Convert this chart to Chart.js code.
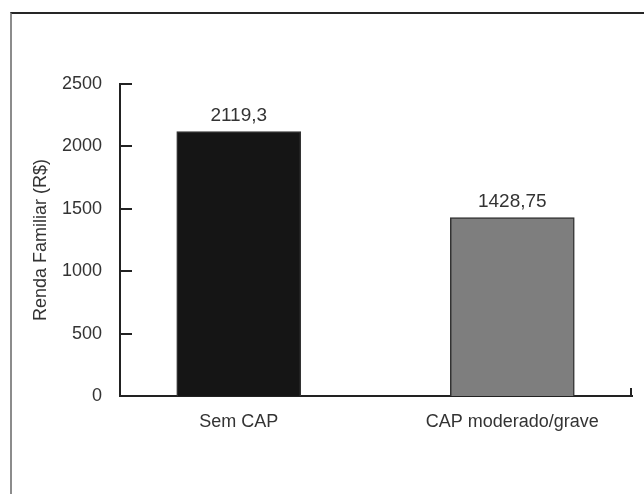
<!DOCTYPE html>
<html>
<head>
<meta charset="utf-8">
<script src="https://cdn.jsdelivr.net/npm/chart.js@4/dist/chart.umd.min.js"></script>
<style>
    html, body { margin: 0; padding: 0; background: #fff; overflow: hidden; }
    #wrap { position: relative; width: 644px; height: 494px; }
    #frame {
        position: absolute; left: 10px; top: 12px; width: 700px; height: 600px;
        border-top: 2px solid #262626; border-left: 2px solid #8c8c8c;
    }
    canvas { position: absolute; left: 0; top: 0; }
</style>
</head>
<body>
<div id="wrap">
    <div id="frame"></div>
    <canvas id="rendaChart" width="644" height="494"></canvas>
</div>
<script>
// data
const categories = ['Sem CAP', 'CAP moderado/grave'];
const rendaValues = [2119.3, 1428.75];
const barColors = ['#151515', '#7e7e7e'];
const yTicks = [0, 500, 1000, 1500, 2000, 2500];

document.addEventListener('DOMContentLoaded', function () {
    const textColor = '#333';
    const fontFamily = '"Liberation Sans", Arial, sans-serif';

    // short tick marks pointing into the plot, plus the small upturn at the end of the x axis
    const axisMarks = {
        id: 'axisMarks',
        afterDraw(chart) {
            const ctx = chart.ctx;
            const y = chart.scales.y;
            const area = chart.chartArea;
            ctx.save();
            ctx.strokeStyle = '#222';
            ctx.lineWidth = 2;
            ctx.beginPath();
            y.ticks.forEach(function (t) {
                const py = Math.round(y.getPixelForValue(t.value));
                ctx.moveTo(area.left, py);
                ctx.lineTo(area.left + 12, py);
            });
            ctx.moveTo(area.right - 1, area.bottom + 1);
            ctx.lineTo(area.right - 1, area.bottom - 8);
            ctx.stroke();
            ctx.restore();
        }
    };

    // numbers above each bar
    const valueLabels = {
        id: 'valueLabels',
        afterDatasetsDraw(chart) {
            const ctx = chart.ctx;
            const meta = chart.getDatasetMeta(0);
            ctx.save();
            ctx.fillStyle = textColor;
            ctx.font = '19px ' + fontFamily;
            ctx.textAlign = 'center';
            ctx.textBaseline = 'alphabetic';
            meta.data.forEach(function (bar, i) {
                const label = String(rendaValues[i]).replace('.', ',');
                ctx.fillText(label, bar.x, bar.y - 11);
            });
            ctx.restore();
        }
    };

    const ctx = document.getElementById('rendaChart').getContext('2d');
    new Chart(ctx, {
        type: 'bar',
        data: {
            datasets: [{
                data: rendaValues.map(function (v, i) { return { x: i + 1, y: v }; }),
                backgroundColor: barColors,
                borderColor: '#333',
                borderWidth: 1.5,
                borderSkipped: 'bottom',
                barThickness: 124
            }]
        },
        options: {
            responsive: false,
            animation: false,
            devicePixelRatio: 1,
            layout: {
                padding: { left: 0, right: 12, top: 84, bottom: 0 }
            },
            plugins: {
                legend: { display: false },
                tooltip: { enabled: false }
            },
            scales: {
                x: {
                    type: 'linear',
                    offset: false,
                    min: 0.566,
                    max: 2.4375,
                    afterFit: function (scale) { scale.height = 98; },
                    afterBuildTicks: function (scale) {
                        scale.ticks = categories.map(function (c, i) { return { value: i + 1 }; });
                    },
                    grid: { display: false },
                    border: { display: true, color: '#222', width: 2 },
                    ticks: {
                        color: textColor,
                        font: { family: fontFamily, size: 18 },
                        padding: 7,
                        maxRotation: 0,
                        autoSkip: false,
                        callback: function (v) { return categories[v - 1]; }
                    }
                },
                y: {
                    min: 0,
                    max: 2500,
                    afterFit: function (scale) { scale.width = 120; },
                    afterBuildTicks: function (scale) {
                        scale.ticks = yTicks.map(function (v) { return { value: v }; });
                    },
                    grid: { display: false },
                    border: { display: true, color: '#222', width: 2 },
                    ticks: {
                        color: textColor,
                        font: { family: fontFamily, size: 18 },
                        padding: 10,
                        callback: function (v) { return String(v); }
                    },
                    title: {
                        display: true,
                        text: 'Renda Familiar (R$)',
                        color: textColor,
                        font: { family: fontFamily, size: 18 },
                        padding: { top: 30, bottom: 0 }
                    }
                }
            }
        },
        plugins: [axisMarks, valueLabels]
    });
});
</script>
</body>
</html>
